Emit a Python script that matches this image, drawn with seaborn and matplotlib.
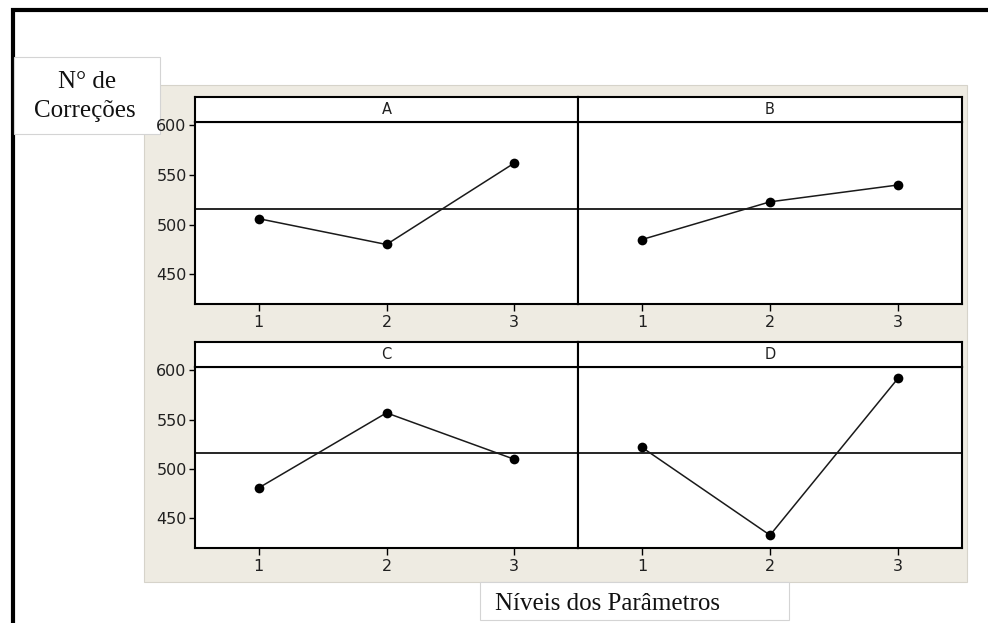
import numpy as np
import pandas as pd
import matplotlib
matplotlib.use("Agg")
import matplotlib.pyplot as plt
import seaborn as sns
from matplotlib.patches import Rectangle

# Médias do número de correções por nível de cada parâmetro
fatores = ["A", "B", "C", "D"]
niveis = [1, 2, 3]
media_A = [506, 480, 562]
media_B = [485, 523, 540]
media_C = [481, 557, 510]
media_D = [522, 433, 592]
yticks = [450, 500, 550, 600]

df = pd.DataFrame({
    "fator": np.repeat(fatores, len(niveis)),
    "nivel": niveis * len(fatores),
    "correcoes": media_A + media_B + media_C + media_D,
})
media_geral = df["correcoes"].mean()

sns.set_theme(style="white")
plt.rcParams["font.family"] = ["DejaVu Sans"]

W, H = 988, 623
fig = plt.figure(figsize=(W / 100, H / 100), dpi=100)
fig.patch.set_facecolor("white")


def px(x0, y0, x1, y1):
    # caixa em pixels (origem no topo) -> coordenadas da figura
    return [x0 / W, 1 - y1 / H, (x1 - x0) / W, (y1 - y0) / H]


# fundo bege do gráfico do Minitab
fig.add_artist(Rectangle((144 / W, 1 - 582 / H), (967 - 144) / W, (582 - 85) / H,
                         transform=fig.transFigure, facecolor="#EEEBE2",
                         edgecolor="#d6d3ca", lw=0.8, zorder=-2))

# moldura preta do documento (só aparecem a borda esquerda e a de cima)
fig.add_artist(Rectangle((12.5 / W, -0.2), 1.5, 1.2 - 9.5 / H, transform=fig.transFigure,
                         fill=False, edgecolor="black", lw=3, zorder=-2))

# rótulos colados (caixas brancas sob os eixos, texto por cima)
fig.add_artist(Rectangle((14 / W, 1 - 134 / H), 146 / W, 77 / H, transform=fig.transFigure,
                         facecolor="white", edgecolor="#d4d4d4", lw=0.8, zorder=-1))
fig.add_artist(Rectangle((480 / W, 1 - 620 / H), 309 / W, 38 / H, transform=fig.transFigure,
                         facecolor="white", edgecolor="#d4d4d4", lw=0.8, zorder=-1))

posicoes = {"A": (195, 97, 578, 304), "B": (578, 97, 962, 304),
            "C": (195, 342, 578, 548), "D": (578, 342, 962, 548)}

for f in fatores:
    x0, ys, x1, y1 = posicoes[f]
    ax = fig.add_axes(px(x0, ys + 25, x1, y1))
    ax.set_facecolor("white")
    sns.lineplot(data=df[df["fator"] == f], x="nivel", y="correcoes", ax=ax,
                 color="#1a1a1a", lw=1.1, marker="o", markersize=7,
                 markeredgewidth=0, markerfacecolor="black", zorder=3)
    ax.axhline(media_geral, color="black", lw=1.2, zorder=1)
    ax.set_xlim(0.5, 3.5)
    ax.set_ylim(420, 603.5)
    ax.set_xticks(niveis)
    ax.set_yticks(yticks)
    ax.set_xlabel("")
    ax.set_ylabel("")
    for s in ax.spines.values():
        s.set_color("black")
        s.set_linewidth(1.5)
    ax.tick_params(axis="x", bottom=True, direction="out", length=5, width=1,
                   color="black", labelcolor="#202020", labelsize=11.5, pad=3)
    if f in ("A", "C"):
        ax.tick_params(axis="y", left=True, direction="out", length=4, width=1,
                       color="black", labelcolor="#202020", labelsize=11.5, pad=2)
    else:
        ax.tick_params(axis="y", left=False, labelleft=False)

    strip = fig.add_axes(px(x0, ys, x1, ys + 25))
    strip.set_facecolor("white")
    strip.set_xticks([])
    strip.set_yticks([])
    for s in strip.spines.values():
        s.set_color("black")
        s.set_linewidth(1.5)
    strip.text(0.5, 0.5, f, ha="center", va="center", fontsize=10.5, color="#202020")

# textos dos rótulos (Times)
serif = ["Liberation Serif", "DejaVu Serif"]
fig.text(87 / W, 1 - 88 / H, "N° de", ha="center", va="baseline", fontsize=18,
         family=serif, color="#111111", zorder=6)
fig.text(85 / W, 1 - 117 / H, "Correções", ha="center", va="baseline", fontsize=18,
         family=serif, color="#111111", zorder=6)
fig.text(495 / W, 1 - 610 / H, "Níveis dos Parâmetros", ha="left", va="baseline",
         fontsize=18, family=serif, color="#111111", zorder=6)

fig.savefig("out.png", dpi=100, facecolor="white")
